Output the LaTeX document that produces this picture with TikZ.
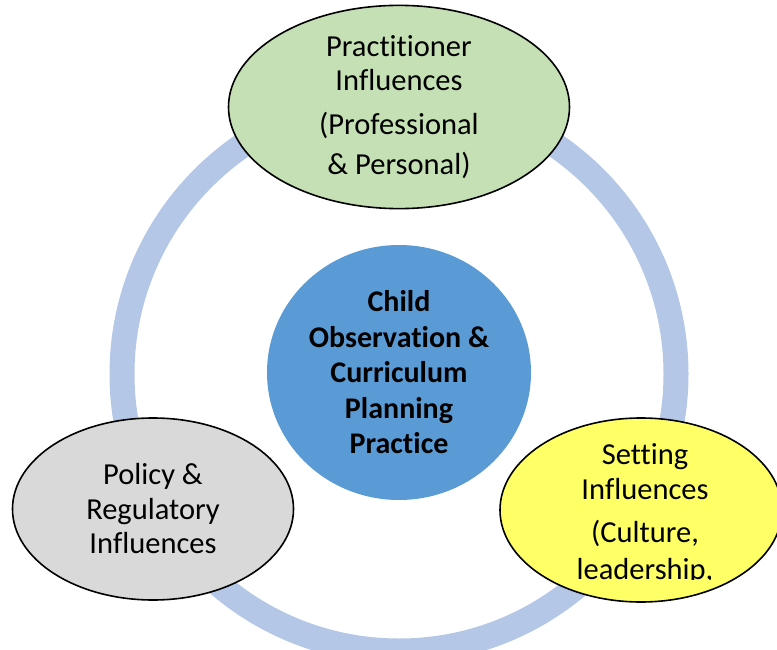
\documentclass[tikz,border=0pt]{standalone}
\usepackage{fontspec}
\setmainfont[Ligatures=NoCommon]{Carlito}
\usetikzlibrary{shapes.geometric}
\definecolor{ringblue}{RGB}{180, 199, 231}
\definecolor{coreblue}{RGB}{91, 155, 213}
\definecolor{pgreen}{RGB}{197, 224, 180}
\definecolor{pgrey}{RGB}{217, 217, 217}
\definecolor{pyellow}{RGB}{255, 255, 102}
\tikzset{
  influence/.style={ellipse, draw=black, line width=1.6pt, inner sep=0pt, align=center,
    font=\fontsize{30.5}{34.5}\selectfont},
}

\begin{document}
\begin{tikzpicture}[x=1pt, y=-1pt]
    \useasboundingbox (0, 0) rectangle (777, 650);

    \draw [ringblue, line width=25pt] (399, 374) circle (277pt);

    \node [ellipse, fill=coreblue, minimum width=264pt, minimum height=255pt, inner sep=0pt, align=center,
      font=\bfseries\fontsize{30}{35.5}\selectfont] (core) at (399, 372.5)
      {Child\\Observation \&\\Curriculum\\Planning\\Practice};

    \node [influence, fill=pgreen, minimum width=341pt, minimum height=199pt] (practitioner) at (399, 107)
      {Practitioner\\Influences\\[9pt](Professional\\[6pt]\& Personal)};

    \node [influence, fill=pgrey, minimum width=281pt, minimum height=182pt] (policy) at (153, 509)
      {Policy \&\\Regulatory\\Influences};

    \node [influence, fill=pyellow, minimum width=282pt, minimum height=184pt] (setting) at (641, 510) {};
    \begin{scope}
      \clip (500, 430) rectangle (777, 579);
      \node [align=center, font=\fontsize{30.5}{34.5}\selectfont, anchor=north] (settingtext) at (645, 440)
        {Setting\\Influences\\[9pt](Culture,\\[2pt]leadership,};
    \end{scope}
  \end{tikzpicture}
\end{document}
